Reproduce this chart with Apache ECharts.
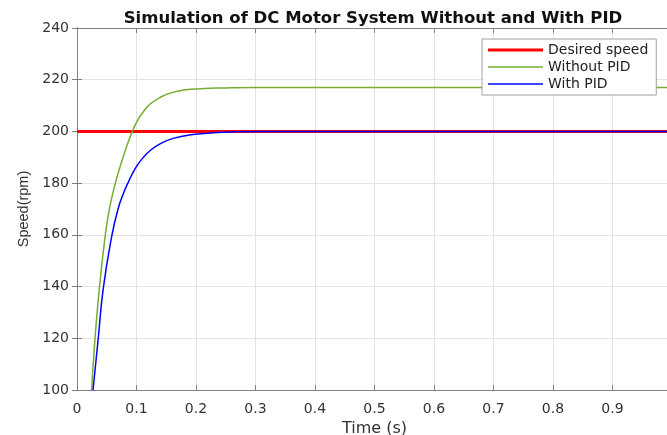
<!DOCTYPE html>
<html>
<head>
<meta charset="utf-8">
<script src="https://cdn.jsdelivr.net/npm/echarts@6/dist/echarts.min.js"></script>
<style>
  html, body { margin: 0; padding: 0; background: #fff; }
  #chart { width: 667px; height: 435px; }
</style>
</head>
<body>
<div id="chart"></div>
<script>
// legend names
var seriesNames = ['Desired speed', 'Without PID', 'With PID'];
// desired speed (rpm)
var desired = [[0, 200], [1, 200]];
// response without PID, [time, speed]
var withoutPid = [
  [0.0245, 100], [0.030, 119], [0.037, 138], [0.046, 157], [0.054, 169.5],
  [0.065, 180.5], [0.072, 186], [0.080, 191.8], [0.0915, 199.2], [0.102, 204.4],
  [0.113, 208.1], [0.124, 210.8], [0.141, 213.3], [0.158, 214.9], [0.180, 216],
  [0.208, 216.5], [0.244, 216.8], [0.3, 217], [1, 217]
];
// response with PID
var withPid = [
  [0.027, 100], [0.0357, 120], [0.044, 139], [0.058, 159], [0.069, 170],
  [0.078, 176], [0.0865, 180.5], [0.097, 185.3], [0.108, 189], [0.124, 192.8],
  [0.141, 195.4], [0.163, 197.4], [0.191, 198.7], [0.225, 199.4], [0.26, 199.8],
  [0.32, 200], [1, 200]
];

var font = '"DejaVu Sans", sans-serif';
var axisGray = '#808080';
var textGray = '#333';

var myChart = echarts.init(document.getElementById('chart'));

function boxAxis(pos, type) {
  // top / right edge of the MATLAB box, ticks only
  return {
    type: 'value', position: pos, min: type === 'x' ? 0 : 100,
    max: type === 'x' ? 1 : 240, interval: type === 'x' ? 0.1 : 20,
    axisLine: { show: true, lineStyle: { color: axisGray, width: 1 } },
    axisTick: { show: true, inside: true, length: 5, lineStyle: { color: axisGray } },
    axisLabel: { show: false },
    splitLine: { show: false }
  };
}

option = {
  animation: false,
  title: {
    text: 'Simulation of DC Motor System Without and With PID',
    left: 368, top: 5, textAlign: 'center',
    textStyle: { fontFamily: font, fontSize: 16.5, fontWeight: 'bold', color: '#111' }
  },
  legend: {
    orient: 'vertical',
    left: 482, top: 39,
    padding: [4, 8, 4, 6],
    itemWidth: 55, itemHeight: 14, itemGap: 3,
    backgroundColor: '#fff',
    borderColor: '#a0a0a0', borderWidth: 1,
    textStyle: { fontFamily: font, fontSize: 14, color: '#222' },
    data: [
      { name: seriesNames[0], icon: 'path://M0,0L55,0L55,3L0,3Z' },
      { name: seriesNames[1], icon: 'path://M0,0L55,0L55,1.3L0,1.3Z' },
      { name: seriesNames[2], icon: 'path://M0,0L55,0L55,1.3L0,1.3Z' }
    ]
  },
  grid: { left: 77, top: 28, right: -5, bottom: 45, containLabel: false, outerBoundsMode: 'none' },
  xAxis: [{
    type: 'value', min: 0, max: 1, interval: 0.1,
    name: 'Time (s)', nameLocation: 'middle', nameGap: 31,
    nameTextStyle: { fontFamily: font, fontSize: 16, color: textGray },
    axisLine: { show: true, onZero: false, lineStyle: { color: axisGray, width: 1 } },
    axisTick: { show: true, inside: true, length: 5, lineStyle: { color: axisGray } },
    axisLabel: { fontFamily: font, fontSize: 14, color: textGray, margin: 12,
      formatter: function (v) { return String(+v.toFixed(1)); } },
    splitLine: { show: true, lineStyle: { color: '#e3e3e3', width: 1 } }
  }, boxAxis('top', 'x')],
  yAxis: [{
    type: 'value', min: 100, max: 240, interval: 20,
    name: 'Speed(rpm)', nameLocation: 'middle', nameGap: 45,
    nameTextStyle: { fontFamily: '"Liberation Sans", Arial, sans-serif', fontSize: 14.5, color: textGray },
    axisLine: { show: true, onZero: false, lineStyle: { color: axisGray, width: 1 } },
    axisTick: { show: true, inside: true, length: 5, lineStyle: { color: axisGray } },
    axisLabel: { fontFamily: font, fontSize: 14, color: textGray, margin: 8 },
    splitLine: { show: true, lineStyle: { color: '#e3e3e3', width: 1 } }
  }, boxAxis('right', 'y')],
  series: [{
    name: seriesNames[0], type: 'line', data: desired,
    symbol: 'none', color: '#ff0000',
    lineStyle: { width: 3, color: '#ff0000' }
  }, {
    name: seriesNames[1], type: 'line', data: withoutPid,
    symbol: 'none', smooth: 0.5, color: '#77ac30',
    lineStyle: { width: 1.5, color: '#77ac30' }
  }, {
    name: seriesNames[2], type: 'line', data: withPid,
    symbol: 'none', smooth: 0.5, color: '#0000ff',
    lineStyle: { width: 1.5, color: '#0000ff' }
  }]
};
myChart.setOption(option);
</script>
</body>
</html>
